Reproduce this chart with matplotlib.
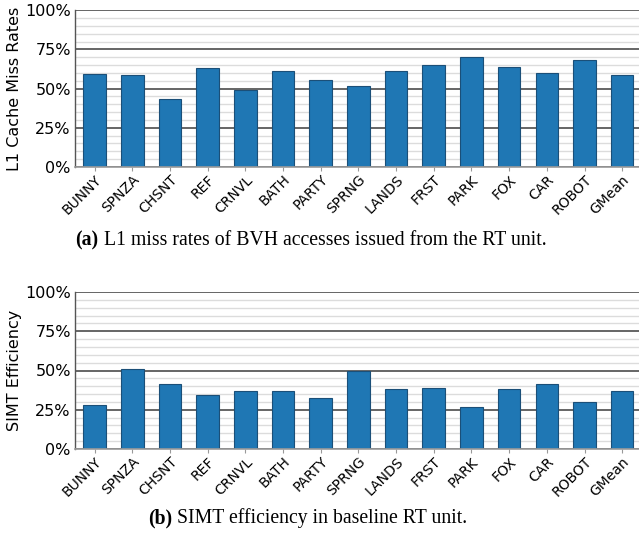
#!/usr/bin/env python3
"""Two-panel bar chart: L1 miss rates and SIMT efficiency per scene."""

import matplotlib
matplotlib.use('Agg')
import matplotlib.pyplot as plt
from matplotlib.ticker import MultipleLocator, FuncFormatter


SCENES = ['BUNNY', 'SPNZA', 'CHSNT', 'REF', 'CRNVL', 'BATH', 'PARTY', 'SPRNG',
          'LANDS', 'FRST', 'PARK', 'FOX', 'CAR', 'ROBOT', 'GMean']
L1_MISS = [59.3, 58.5, 43.4, 63.0, 49.1, 61.1, 55.5, 51.7,
           61.3, 65.3, 70.4, 63.8, 60.0, 68.1, 58.7]
SIMT_EFF = [27.8, 50.8, 41.2, 34.4, 37.1, 37.1, 32.7, 49.9,
            38.4, 38.6, 26.5, 38.4, 41.6, 29.7, 36.7]

BAR_COLOR = '#1f77b4'
EDGE_COLOR = '#1b4f78'
W, H = 639, 535


def style_axis(ax, ylabel):
    ax.set_xlim(-0.52, 14.446)
    ax.set_ylim(0, 100)
    ax.yaxis.set_major_locator(MultipleLocator(25))
    ax.yaxis.set_minor_locator(MultipleLocator(5))
    ax.yaxis.set_major_formatter(FuncFormatter(lambda v, _: f'{v:.0f}%'))
    ax.grid(True, which='minor', axis='y', color='#dcdcdc', linewidth=1.0)
    ax.grid(True, which='major', axis='y', color='#3c3c3c', linewidth=1.1)
    ax.set_axisbelow(True)
    ax.tick_params(axis='y', which='both', length=0, labelsize=11.5, pad=3)
    ax.tick_params(axis='x', length=3, color='#999999', labelsize=10, pad=1)
    ax.set_xticks(range(len(SCENES)))
    ax.set_xticklabels(SCENES, rotation=45, ha='right', rotation_mode='anchor')
    for side in ['top', 'right']:
        ax.spines[side].set_visible(False)
    ax.spines['bottom'].set_color('#9a9a9a')
    ax.spines['bottom'].set_linewidth(1.2)
    ax.spines['left'].set_color('#555555')
    ax.spines['left'].set_linewidth(1.0)
    ax.set_ylabel(ylabel, fontsize=11.5, labelpad=2)


def caption(fig, label, text, baseline_px, center_px):
    y = 1 - baseline_px / H
    t1 = fig.text(0, y, label, fontfamily='Liberation Serif', fontweight='bold',
                  fontsize=14.2, va='baseline', ha='left')
    t2 = fig.text(0, y, ' ' + text, fontfamily='Liberation Serif',
                  fontsize=14.2, va='baseline', ha='left')
    fig.canvas.draw()
    r = fig.canvas.get_renderer()
    w1 = t1.get_window_extent(r).width
    w2 = t2.get_window_extent(r).width
    x0 = center_px - (w1 + w2) / 2
    t1.set_x(x0 / W)
    t2.set_x((x0 + w1) / W)


def main():
    fig = plt.figure(figsize=(W / 100, H / 100), dpi=100)
    ax1 = fig.add_axes([75 / W, 1 - 167 / H, 1 - 75 / W, 156.7 / H])
    ax2 = fig.add_axes([75 / W, 1 - 449 / H, 1 - 75 / W, 157 / H])

    x = range(len(SCENES))
    ax1.bar(x, L1_MISS, width=0.6, color=BAR_COLOR, edgecolor=EDGE_COLOR, linewidth=0.8)
    ax2.bar(x, SIMT_EFF, width=0.6, color=BAR_COLOR, edgecolor=EDGE_COLOR, linewidth=0.8)

    style_axis(ax1, 'L1 Cache Miss Rates')
    style_axis(ax2, 'SIMT Efficiency')

    caption(fig, '(a)', 'L1 miss rates of BVH accesses issued from the RT unit.', 245, 311)
    caption(fig, '(b)', 'SIMT efficiency in baseline RT unit.', 523, 308)

    fig.savefig('out.png', dpi=100)


if __name__ == '__main__':
    main()
